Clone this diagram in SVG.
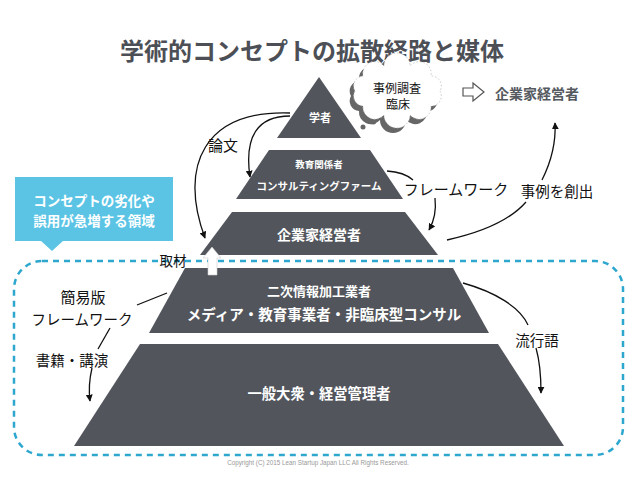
<svg xmlns="http://www.w3.org/2000/svg" width="638" height="479" viewBox="0 0 638 479">
<style>
.tier{fill:#52555c}
.tt{fill:#fff;font-family:"Noto Sans CJK JP","Noto Sans",sans-serif;font-weight:700;text-anchor:middle;dominant-baseline:central}
.lbl{fill:#111;font-family:"Noto Sans CJK JP","Noto Sans",sans-serif;font-weight:400;text-anchor:middle;dominant-baseline:central}
.con{fill:none;stroke:#111;stroke-width:1.3}
</style>
<defs>
<marker id="ah" viewBox="0 0 10 10" refX="9" refY="5" markerWidth="7" markerHeight="7" markerUnits="userSpaceOnUse" orient="auto">
<path d="M0,0 L10,5 L0,10 Z" fill="#111"/>
</marker>
</defs>
<rect width="638" height="479" fill="#fff"/>
<text x="312" y="49" font-family="'Noto Sans CJK JP','Noto Sans',sans-serif" font-weight="700" font-size="24" fill="#4c4f56" text-anchor="middle" dominant-baseline="central">学術的コンセプトの拡散経路と媒体</text>

<g id="callout">
<rect x="15" y="177" width="158" height="64" fill="#5bc4e5"/>
<polygon points="40,240 64,240 52,251" fill="#5bc4e5"/>
<text class="tt" x="94" y="200" font-size="13.5">コンセプトの劣化や</text>
<text class="tt" x="94" y="220" font-size="13.5">誤用が急増する領域</text>
</g>

<g id="region">
<rect x="14" y="261" width="609" height="194" rx="28" fill="none" stroke="#2ea7cf" stroke-width="2.5" stroke-dasharray="6 5"/>
</g>

<g id="tier1"><polygon class="tier" points="319,77 277,138 361,138"/><text class="tt" x="320" y="117" font-size="11">学者</text></g>
<g id="tier2"><polygon class="tier" points="269,150 370,150 403,199 236,199"/><text class="tt" x="319" y="164" font-size="9.5">教育関係者</text><text class="tt" x="319" y="185" font-size="10.5">コンサルティングファーム</text></g>
<g id="tier3"><polygon class="tier" points="232,212 405,212 438,255 200,255"/><text class="tt" x="319" y="234" font-size="14">企業家経営者</text></g>
<g id="tier4"><polygon class="tier" points="185,268 453,268 489,333 149,333"/><text class="tt" x="319" y="290" font-size="13">二次情報加工業者</text><text class="tt" x="324" y="313" font-size="14.5">メディア・教育事業者・非臨床型コンサル</text></g>
<g id="tier5"><polygon class="tier" points="140,344 498,344 564,446 74,446"/><text class="tt" x="319" y="392" font-size="14.3">一般大衆・経営管理者</text></g>

<g id="upArrow"><path d="M212,247 L221,258 L217,258 L217,275 L208,275 L208,258 L203,258 Z" fill="#fff" stroke="#ccc" stroke-width="0.6"/></g>

<g id="cloud">
<circle cx="363" cy="127" r="2.5" fill="#666"/>
<circle cx="373" cy="121" r="3.5" fill="#666"/>
<path transform="translate(-4,5)" d="M440,91 A10,10 0 0 1 431,106 A12,12 0 0 1 410,115 A13,13 0 0 1 384,115 A12,12 0 0 1 363,106 A10,10 0 0 1 355,91 A10,10 0 0 1 363,76 A12,12 0 0 1 384,66 A13,13 0 0 1 410,66 A12,12 0 0 1 431,76 A10,10 0 0 1 440,91 Z" fill="#666"/>
<path d="M440,91 A10,10 0 0 1 431,106 A12,12 0 0 1 410,115 A13,13 0 0 1 384,115 A12,12 0 0 1 363,106 A10,10 0 0 1 355,91 A10,10 0 0 1 363,76 A12,12 0 0 1 384,66 A13,13 0 0 1 410,66 A12,12 0 0 1 431,76 A10,10 0 0 1 440,91 Z" fill="#fff" stroke="#bbb" stroke-width="0.8" stroke-dasharray="1.5 2"/>
<text class="lbl" x="397" y="87" font-size="12">事例調査</text>
<text class="lbl" x="398" y="103" font-size="12">臨床</text>
</g>

<g id="hollowArrow"><path d="M463,88 L473,88 L473,83 L484,92 L473,101 L473,96 L463,96 Z" fill="#fff" stroke="#555" stroke-width="1.2"/></g>
<g id="entrepreneur"><text x="537" y="93" font-family="'Noto Sans CJK JP','Noto Sans',sans-serif" font-weight="700" font-size="14" fill="#555a60" text-anchor="middle" dominant-baseline="central">企業家経営者</text></g>

<g id="connectors">
<path class="con" d="M290,113 C205,110 178,165 205,238" marker-end="url(#ah)"/>
<path class="con" d="M290,116 C258,116 244,136 250,177" marker-end="url(#ah)"/>
<path class="con" d="M387,171 Q404,172 413,180"/>
<path class="con" d="M435,198 Q437,216 429,230" marker-end="url(#ah)"/>
<path class="con" d="M447,240 C488,231 512,218 526,202"/>
<path class="con" d="M542,180 C552,160 556,142 555,123" marker-end="url(#ah)"/>
<path class="con" d="M167,293 L137,305"/>
<path class="con" d="M110,328 L98,349"/>
<path class="con" d="M92,368 Q88,385 90,401" marker-end="url(#ah)"/>
<path class="con" d="M463,283 C495,292 520,307 528,325"/>
<path class="con" d="M536,348 C540,362 541,376 541,393" marker-end="url(#ah)"/>
</g>

<g id="labels">
<text class="lbl" x="223" y="144" font-size="15">論文</text>
<text class="lbl" x="456" y="188" font-size="15">フレームワーク</text>
<text class="lbl" x="557" y="190" font-size="14.5">事例を創出</text>
<text class="lbl" x="83" y="296" font-size="15">簡易版</text>
<text class="lbl" x="82" y="318" font-size="14.5">フレームワーク</text>
<text class="lbl" x="72" y="359" font-size="14.5">書籍・講演</text>
<text class="lbl" x="537" y="339" font-size="14.5">流行語</text>
<text class="lbl" x="173" y="260" font-size="13.5">取材</text>
</g>

<text x="318" y="462" font-family="'Liberation Sans',Arial,sans-serif" font-size="6.3" fill="#999" text-anchor="middle" dominant-baseline="central">Copyright (C) 2015 Lean Startup Japan LLC All Rights Reserved.</text>
</svg>
